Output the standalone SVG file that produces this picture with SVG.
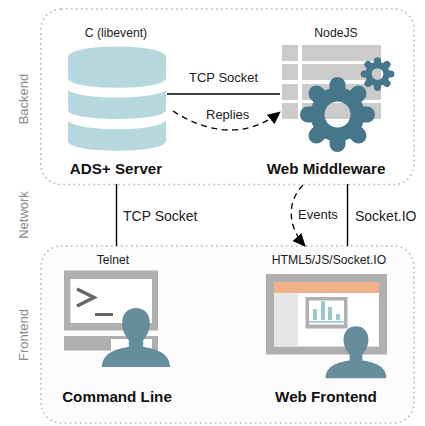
<svg xmlns="http://www.w3.org/2000/svg" width="425" height="426" viewBox="0 0 425 426">
<style>
text{font-family:"Liberation Sans",Arial,sans-serif;fill:#222}
.tier{stroke:#b8b8b8;stroke-width:1.6;stroke-dasharray:1.6 3.4}
.side{font-size:13px;fill:#8a8a8a;text-anchor:middle}
.tech{font-size:12.2px;text-anchor:middle}
.name{font-size:15.2px;font-weight:bold;fill:#111;text-anchor:middle}
.lbl{font-size:13px}
.lbl2{font-size:14px}
.wire{fill:none;stroke:#000;stroke-width:1.4}
.dash{fill:none;stroke:#000;stroke-width:1.3;stroke-dasharray:6 4.5}
.cyl{fill:#b7d8df}
.cell{fill:#cbcbcb}
.scr{fill:#b0b0b0}
.user{fill:#668d9b}
</style>
<defs>
<marker id="arr" markerUnits="userSpaceOnUse" markerWidth="14" markerHeight="12" refX="12" refY="6" orient="auto"><path d="M0 0L13 6L0 12z" fill="#000"/></marker>
<g id="gear" fill="none" stroke="#467689" stroke-linecap="round">
<circle r="20" stroke-width="14"/>
<path stroke-width="16" d="M0-24V-29.500M0 24V29.500M24 0H29.500M-24 0H-29.500M17-17L21-21M-17 17L-21 21M17 17L21 21M-17-17L-21-21"/>
</g>
<path id="person" d="M-13.500 0C-13.500-10-7-15 0-15C7-15 13.500-10 13.500 0C13.500 7 10.500 13 7 17V24C17 25.500 33 29 33 44H-33C-33 29-17 25.500-7 24V17C-10.500 13-13.500 7-13.500 0z"/>
</defs>
<rect width="425" height="426" fill="#fff"/>
<g id="tiers">
<rect class="tier" x="41" y="9" width="373" height="175.500" rx="20" fill="#fff"/>
<rect class="tier" x="41" y="246" width="373" height="177" rx="20" fill="#fcfcfc"/>
<text class="side" transform="translate(28,99) rotate(-90)">Backend</text>
<text class="side" transform="translate(28,215) rotate(-90)">Network</text>
<text class="side" transform="translate(28,335) rotate(-90)">Frontend</text>
</g>
<g id="connectors">
<path class="wire" d="M167 94H280"/>
<path class="wire" d="M116.500 184V246"/>
<path class="wire" d="M347.500 184V246"/>
<path class="dash" marker-end="url(#arr)" d="M173 111C205 132 245 140 280 112"/>
<path class="dash" marker-end="url(#arr)" d="M303 185C288 200 286 225 305 246"/>
<text class="lbl" x="189" y="82">TCP Socket</text>
<text class="lbl" x="206" y="119">Replies</text>
<text class="lbl2" x="123" y="221">TCP Socket</text>
<text class="lbl" x="298" y="219">Events</text>
<text class="lbl2" x="355" y="221">Socket.IO</text>
</g>
<g id="ads-server">
<text class="tech" x="116" y="37">C (libevent)</text>
<path class="cyl" d="M68 57C68 43 166 43 166 57V78C166 91 68 91 68 78z"/>
<path class="cyl" d="M68 90C80 100 154 100 166 90V110C166 122 68 122 68 110z"/>
<path class="cyl" d="M68 121C80 132 154 132 166 121V141C166 154 68 154 68 141z"/>
<text class="name" x="116" y="174">ADS+ Server</text>
</g>
<g id="web-middleware">
<text class="tech" x="336" y="37">NodeJS</text>
<g class="cell">
<rect x="282" y="45" width="16" height="16"/><rect x="302" y="45" width="79" height="16"/>
<rect x="282" y="64" width="16" height="16"/><rect x="302" y="64" width="79" height="16"/>
<rect x="282" y="84" width="16" height="16"/><rect x="302" y="84" width="79" height="16"/>
<rect x="282" y="103" width="16" height="16"/><rect x="302" y="103" width="79" height="16"/>
</g>
<use href="#gear" transform="translate(337.500,114.500)"/>
<use href="#gear" transform="translate(377.500,74) scale(.45)"/>
<text class="name" x="326" y="174">Web Middleware</text>
</g>
<g id="command-line">
<text class="tech" x="113" y="264">Telnet</text>
<rect class="scr" x="64" y="270.500" width="94" height="60"/>
<rect x="70.500" y="279" width="81.500" height="44" fill="#fff"/>
<path d="M77 289L94 297.500L77 306" fill="none" stroke="#666" stroke-width="3.500"/>
<rect x="95" y="313" width="18" height="3" fill="#666"/>
<rect class="scr" x="64" y="336" width="94" height="14.500"/>
<rect x="111" y="339" width="41" height="11.500" fill="#fff"/>
<use href="#person" class="user" transform="translate(136,323) scale(1.03,1)"/>
<text class="name" x="117" y="402">Command Line</text>
</g>
<g id="web-frontend">
<text class="tech" x="329" y="264">HTML5/JS/Socket.IO</text>
<rect class="scr" x="266" y="274" width="121" height="80.500"/>
<rect x="274" y="282" width="105" height="64.500" fill="#fff"/>
<rect x="274" y="282" width="105" height="11" fill="#f0b088"/>
<rect x="274" y="293" width="24" height="53.500" fill="#e6e6e4"/>
<rect x="305.500" y="297" width="42" height="31.500" fill="#b0b0b0"/>
<rect x="309" y="300.500" width="35" height="24" fill="#fff"/>
<g fill="#9cc8d4">
<rect x="313" y="309" width="4" height="11"/><rect x="321" y="301" width="4" height="19"/><rect x="328" y="307" width="4" height="13"/><rect x="336" y="314" width="4" height="6"/><rect x="309" y="321" width="34.500" height="1.700"/>
</g>
<use href="#person" class="user" transform="translate(356,339.500) scale(.92,.88)"/>
<text class="name" x="326" y="402">Web Frontend</text>
</g>
</svg>
